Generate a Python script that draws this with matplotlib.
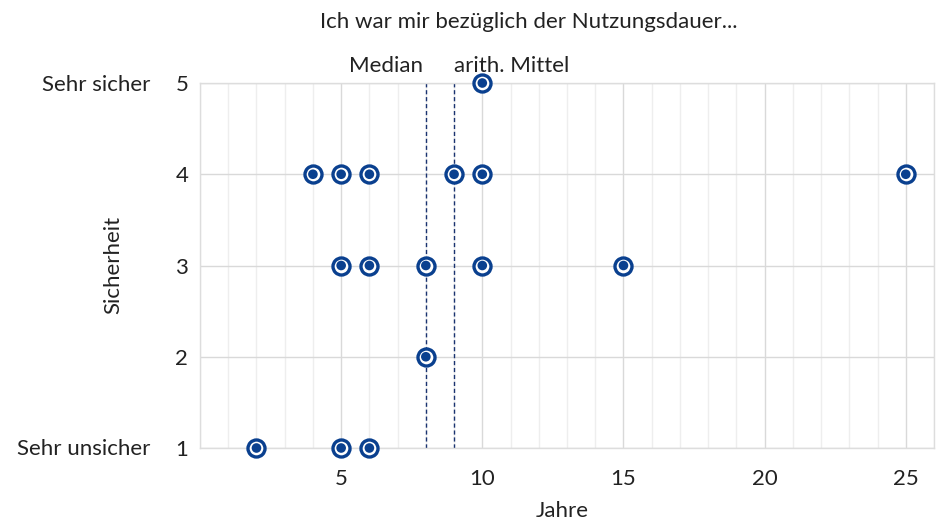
import matplotlib
matplotlib.use("Agg")
import matplotlib.pyplot as plt
from matplotlib.ticker import MultipleLocator

plt.rcParams['font.family'] = ['Lato', 'DejaVu Sans']

# data
jahre = [10, 4, 5, 6, 9, 10, 25, 5, 6, 8, 10, 15, 8, 2, 5, 6]
sicherheit = [5, 4, 4, 4, 4, 4, 4, 3, 3, 3, 3, 3, 2, 1, 1, 1]
median_val = 8
mittel_val = 9
x_ticks = [5, 10, 15, 20, 25]
y_ticks = [1, 2, 3, 4, 5]
title = "Ich war mir bezüglich der Nutzungsdauer..."

blue = "#0a408f"
txt = "#222222"
fs = 16

fig = plt.figure(figsize=(9.49, 5.22), dpi=100)
ax = fig.add_axes([200/949, 1-448/522, (934-200)/949, (448-83)/522])

ax.set_xlim(0, 26)
ax.set_ylim(1, 5)
ax.xaxis.set_major_locator(MultipleLocator(5))
ax.xaxis.set_minor_locator(MultipleLocator(1))
ax.set_xticks(x_ticks)
ax.set_yticks(y_ticks)
ax.grid(which='major', axis='x', color='#d9d9d9', lw=1)
ax.grid(which='minor', axis='x', color='#eeeeee', lw=1)
ax.grid(which='major', axis='y', color='#d9d9d9', lw=1)
ax.set_axisbelow(True)
for s in ax.spines.values():
    s.set_color('#dddddd')
    s.set_linewidth(1)
ax.tick_params(which='both', length=0)
ax.tick_params(axis='x', pad=15, labelsize=fs, labelcolor=txt)
ax.tick_params(axis='y', pad=8.5, labelsize=fs, labelcolor=txt)

ax.axvline(median_val, color='#1a3370', lw=1, ls=(0, (3, 2)), zorder=2)
ax.axvline(mittel_val, color='#1a3370', lw=1, ls=(0, (3, 2)), zorder=2)

ax.scatter(jahre, sicherheit, s=150, facecolor='white', edgecolor=blue,
           linewidth=2.4, zorder=3, clip_on=False)
ax.scatter(jahre, sicherheit, s=48, facecolor=blue, edgecolor='none',
           zorder=4, clip_on=False)

fig.text(529/949, 1-22/522, title, ha='center', va='center', fontsize=fs, color=txt)
ax.text(median_val - 0.1, 5.08, "Median", ha='right', va='bottom', fontsize=fs, color=txt)
ax.text(mittel_val, 5.08, "arith. Mittel", ha='left', va='bottom', fontsize=fs, color=txt)
fig.text(562/949, 1-511/522, "Jahre", ha='center', va='center', fontsize=fs, color=txt)
fig.text(113/949, 1-265/522, "Sicherheit", ha='center', va='center', rotation=90,
         fontsize=fs, color=txt)
fig.text(150/949, 1-85/522, "Sehr sicher", ha='right', va='center', fontsize=fs, color=txt)
fig.text(150/949, 1-449/522, "Sehr unsicher", ha='right', va='center', fontsize=fs, color=txt)

fig.savefig("out.png", dpi=100, facecolor='white')
